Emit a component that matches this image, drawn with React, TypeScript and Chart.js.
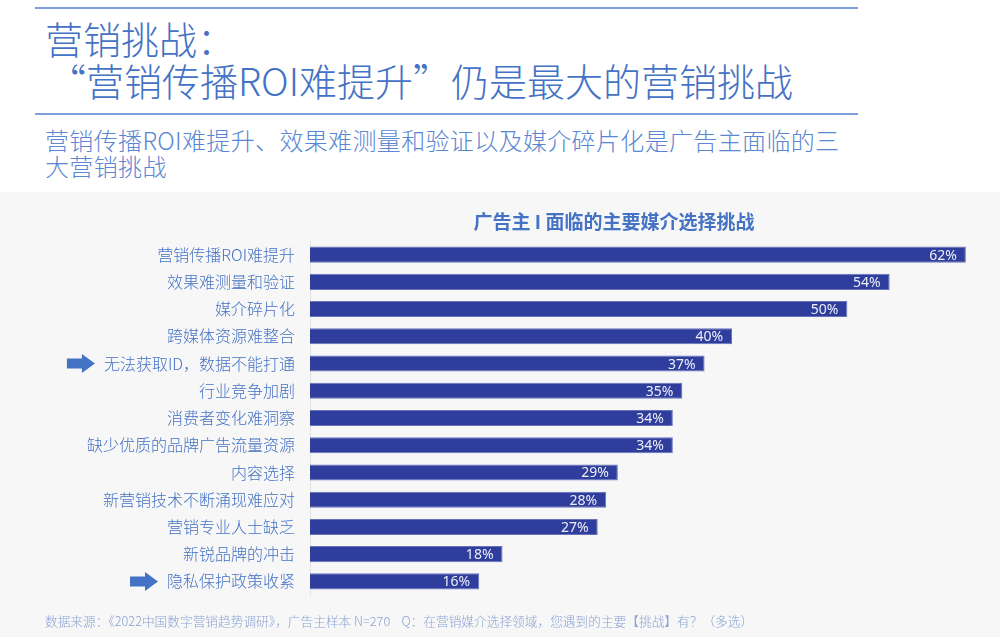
import React, { useEffect, useRef } from "react";
import { Chart, registerables } from "chart.js";

Chart.register(...registerables);

const categories = [
  "营销传播ROI难提升",
  "效果难测量和验证",
  "媒介碎片化",
  "跨媒体资源难整合",
  "无法获取ID，数据不能打通",
  "行业竞争加剧",
  "消费者变化难洞察",
  "缺少优质的品牌广告流量资源",
  "内容选择",
  "新营销技术不断涌现难应对",
  "营销专业人士缺乏",
  "新锐品牌的冲击",
  "隐私保护政策收紧",
];
// bar lengths (in % units)
const values = [62, 54.8, 50.8, 39.9, 37.3, 35.2, 34.3, 34.3, 29.1, 28.0, 27.2, 18.2, 16.0];
// percentages printed on the bars
const valueLabels = ["62%", "54%", "50%", "40%", "37%", "35%", "34%", "34%", "29%", "28%", "27%", "18%", "16%"];
const arrowRows = ["无法获取ID，数据不能打通", "隐私保护政策收紧"];
const xMax = 64;

const titleLine1 = "营销挑战：";
const titleLine2 = "“营销传播ROI难提升”仍是最大的营销挑战";
const subtitleLine1 = "营销传播ROI难提升、效果难测量和验证以及媒介碎片化是广告主面临的三";
const subtitleLine2 = "大营销挑战";
const chartTitle = "广告主 I 面临的主要媒介选择挑战";
const footnote =
  "数据来源：《2022中国数字营销趋势调研》，广告主样本 N=270\u00a0\u00a0\u00a0\u00a0Q：在营销媒介选择领域，您遇到的主要【挑战】有？（多选）";

const CJK = "'Noto Sans CJK SC', 'Noto Sans', sans-serif";
const BLUE = "#4472c4";
const BAR = "#2f3e9c";
const TICK_PAD = 15;
const TICK_FONT = { family: CJK, size: 16, weight: "300" as any };

const valueLabelPlugin = {
  id: "valueLabelPlugin",
  afterDatasetsDraw(chart: any) {
    const ctx = chart.ctx;
    const meta = chart.getDatasetMeta(0);
    ctx.save();
    ctx.font = "14px 'Noto Sans', sans-serif";
    ctx.fillStyle = "#eceef8";
    ctx.textAlign = "right";
    ctx.textBaseline = "middle";
    meta.data.forEach((bar: any, i: number) => {
      ctx.fillText(valueLabels[i], bar.x - 9, bar.y + 1);
    });
    ctx.restore();
  },
};

const arrowPlugin = {
  id: "arrowPlugin",
  afterDraw(chart: any) {
    const yScale = chart.scales.y;
    const ctx = chart.ctx;
    ctx.save();
    ctx.font = `300 ${TICK_FONT.size}px ${CJK}`;
    arrowRows.forEach((label) => {
      const idx = categories.indexOf(label);
      if (idx < 0) return;
      const cy = yScale.getPixelForValue(idx);
      const textLeft = yScale.right - TICK_PAD - ctx.measureText(label).width;
      const tip = textLeft - 9;
      const w = 28;
      const headW = 13;
      const headH = 19;
      const bodyH = 10;
      ctx.beginPath();
      ctx.moveTo(tip - w, cy - bodyH / 2);
      ctx.lineTo(tip - headW, cy - bodyH / 2);
      ctx.lineTo(tip - headW, cy - headH / 2);
      ctx.lineTo(tip, cy);
      ctx.lineTo(tip - headW, cy + headH / 2);
      ctx.lineTo(tip - headW, cy + bodyH / 2);
      ctx.lineTo(tip - w, cy + bodyH / 2);
      ctx.closePath();
      ctx.fillStyle = BLUE;
      ctx.fill();
    });
    ctx.restore();
  },
};

function BarChart() {
  const ref = useRef<HTMLCanvasElement | null>(null);
  useEffect(() => {
    if (!ref.current) return;
    const chart = new Chart(ref.current, {
      type: "bar",
      data: {
        labels: categories,
        datasets: [
          {
            data: values,
            backgroundColor: BAR,
            borderColor: "#6673bb",
            borderWidth: 1,
            borderSkipped: "start",
            categoryPercentage: 1,
            barPercentage: 0.59,
          },
        ],
      },
      options: {
        indexAxis: "y",
        animation: false,
        responsive: false,
        devicePixelRatio: 1,
        layout: { padding: { left: 0, right: 13, top: 49, bottom: 42 } },
        plugins: {
          legend: { display: false },
          tooltip: { enabled: false },
          title: { display: false },
        },
        scales: {
          x: {
            display: false,
            min: 0,
            max: xMax,
          },
          y: {
            grid: { display: false, drawTicks: false },
            border: { display: true, color: "#e3e3e3", width: 1 },
            ticks: {
              color: BLUE,
              font: TICK_FONT,
              padding: TICK_PAD,
              autoSkip: false,
            },
            afterFit: (scale: any) => {
              scale.width = 310;
            },
          },
        },
      },
      plugins: [valueLabelPlugin, arrowPlugin],
    });
    return () => chart.destroy();
  }, []);
  return <canvas ref={ref} width={1000} height={445} style={{ display: "block" }} />;
}

export default function App() {
  const line = (top: number) => (
    <div
      style={{
        position: "absolute",
        left: 35,
        top,
        width: 823,
        height: 2,
        background: "#7f9fdc",
      }}
    />
  );
  return (
    <div
      style={{
        position: "fixed",
        left: 0,
        top: 0,
        width: 1000,
        height: 637,
        background: "#ffffff",
        overflow: "hidden",
        fontFamily: CJK,
      }}
    >
      {line(7)}
      <div
        style={{
          position: "absolute",
          left: 45,
          top: 16,
          fontSize: 38,
          lineHeight: "44px",
          color: BLUE,
          fontWeight: 300,
          whiteSpace: "nowrap",
        }}
      >
        {titleLine1}
      </div>
      <div
        style={{
          position: "absolute",
          left: 48,
          top: 58,
          fontSize: 38,
          lineHeight: "44px",
          color: BLUE,
          fontWeight: 300,
          whiteSpace: "nowrap",
        }}
      >
        {titleLine2}
      </div>
      {line(113)}
      <div
        style={{
          position: "absolute",
          left: 45,
          top: 127,
          fontSize: 24,
          lineHeight: "26px",
          letterSpacing: "0.35px",
          color: "#5a86d2",
          fontWeight: 300,
          whiteSpace: "nowrap",
        }}
      >
        {subtitleLine1}
        <br />
        {subtitleLine2}
      </div>
      <div
        style={{
          position: "absolute",
          left: 0,
          top: 192,
          width: 1000,
          height: 445,
          background: "#f7f7f7",
        }}
      >
        <BarChart />
        <div
          style={{
            position: "absolute",
            left: 0,
            width: 1228,
            top: 17,
            textAlign: "center",
            fontSize: 19,
            lineHeight: "24px",
            fontWeight: 700,
            color: BLUE,
            whiteSpace: "nowrap",
          }}
        >
          {chartTitle}
        </div>
        <div
          style={{
            position: "absolute",
            left: 45,
            top: 421,
            fontSize: 12.7,
            lineHeight: "16px",
            color: "#8aa3d4",
            fontWeight: 300,
            whiteSpace: "nowrap",
          }}
        >
          {footnote}
        </div>
      </div>
    </div>
  );
}
